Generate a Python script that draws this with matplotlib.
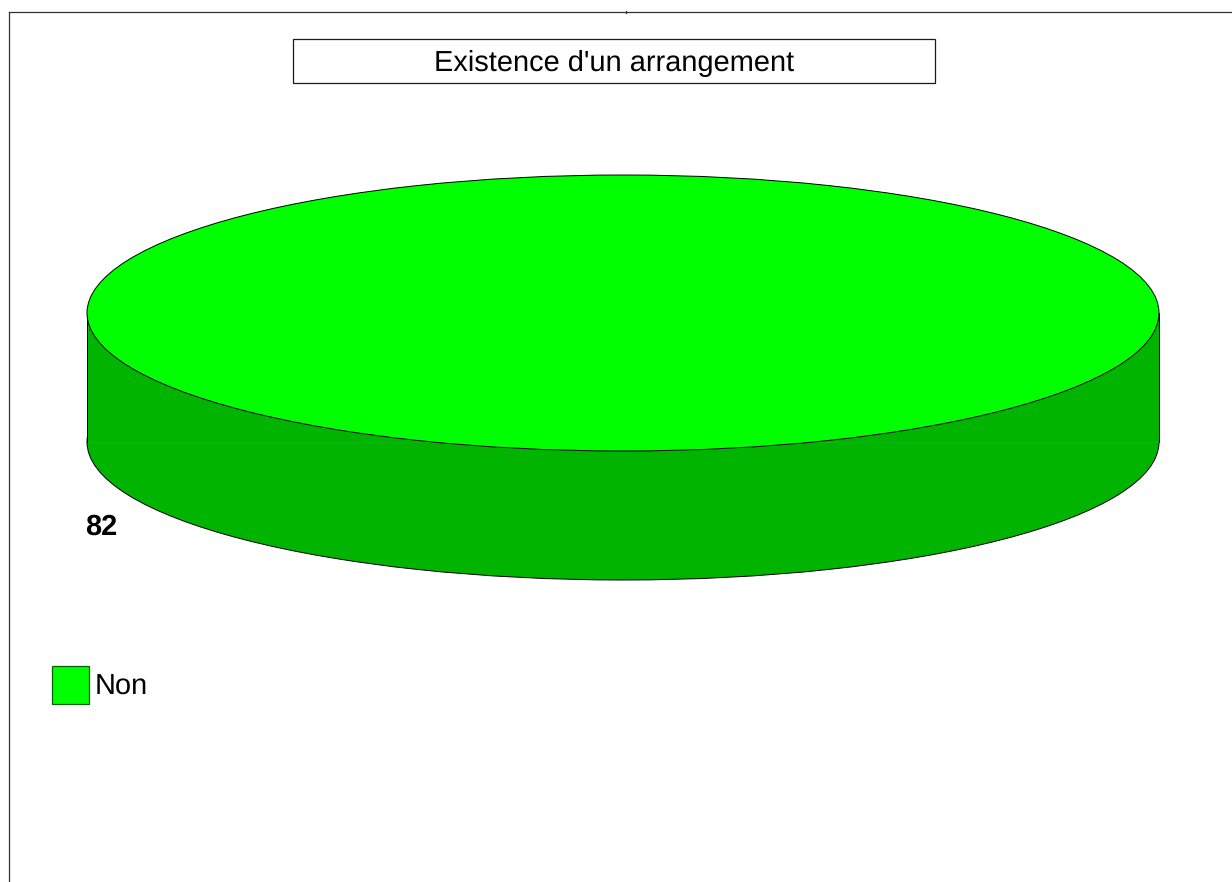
import matplotlib
matplotlib.use("Agg")
import matplotlib.pyplot as plt
from matplotlib.lines import Line2D
from matplotlib.patches import Rectangle

title = "Existence d'un arrangement"
categories = ["Non"]
values = [82]
top_colors = ["#00FF00"]
side_colors = ["#00B400"]

W, H = 1232, 882
CX, CY, RX, RY, DEPTH = 623, 313, 536, 138, 129
EDGE = "#1a1a1a"

plt.rcParams["font.family"] = ["Liberation Sans", "DejaVu Sans"]
plt.rcParams["text.hinting"] = "none"
plt.rcParams["text.hinting_factor"] = 1
fig = plt.figure(figsize=(W / 100, H / 100), dpi=100, facecolor="white")
ax = fig.add_axes([0, 0, 1, 1])

def fx(px):
    return px / W

def fy(py):
    return 1 - py / H

wp = {"edgecolor": "black", "linewidth": 0.7}
d = DEPTH / RY
# lower rim
ax.pie(values, colors=side_colors, center=(0, -d), radius=1, startangle=180,
       counterclock=True, wedgeprops=wp, frame=False)
# side band
ax.add_patch(Rectangle((-1, -d), 2, d, facecolor=side_colors[0], edgecolor="none", zorder=1.5))
ax.plot([-1, -1], [0, -d], color="black", lw=0.7, zorder=1.6)
ax.plot([1, 1], [0, -d], color="black", lw=0.7, zorder=1.6)
ax.plot([-1, 1], [-d, -d], color="#0CBC0C", lw=0.6, zorder=1.55)
# top face
top, _ = ax.pie(values, colors=top_colors, center=(0, 0), radius=1, startangle=180,
                counterclock=True, wedgeprops={**wp, "zorder": 2}, frame=False)
for t in top:
    t.set_zorder(2)

ax.set_aspect("auto")
ax.set_xlim(-CX / RX, (W - CX) / RX)
ax.set_ylim((CY - H) / RY, CY / RY)
ax.axis("off")

# value label
fig.text(fx(101), fy(534.5), str(values[0]), fontsize=21, fontweight="bold",
         ha="center", va="baseline", color="black")

# title box
fig.add_artist(Rectangle((fx(292.5), fy(83)), fx(643), 44 / H, transform=fig.transFigure,
                         facecolor="white", edgecolor=EDGE, linewidth=0.9))
fig.text(fx(614.5), fy(71), title, fontsize=21.2, ha="center", va="baseline", color="black")

# outer frame
for xs, ys in [((8.7, 8.7), (12, 882)), ((8.7, 1232), (12, 12)), ((626, 626), (10.5, 13))]:
    fig.add_artist(Line2D([fx(x) for x in xs], [fy(y) for y in ys], color="#333333", lw=0.9,
                          transform=fig.transFigure))

# legend
fs = 21.2
fs_px = fs * 100 / 72
leg = fig.legend(top, categories, loc="lower left",
                 bbox_to_anchor=(fx(52), fy(704)), frameon=False, fontsize=fs,
                 borderpad=0, borderaxespad=0, handlelength=37 / fs_px,
                 handleheight=36.5 / fs_px + 0.35,
                 handletextpad=6 / fs_px, labelcolor="black")
for h in leg.legend_handles:
    h.set_edgecolor("#0B5E0B")
    h.set_linewidth(0.9)

fig.savefig("out.png", dpi=100, facecolor="white")
